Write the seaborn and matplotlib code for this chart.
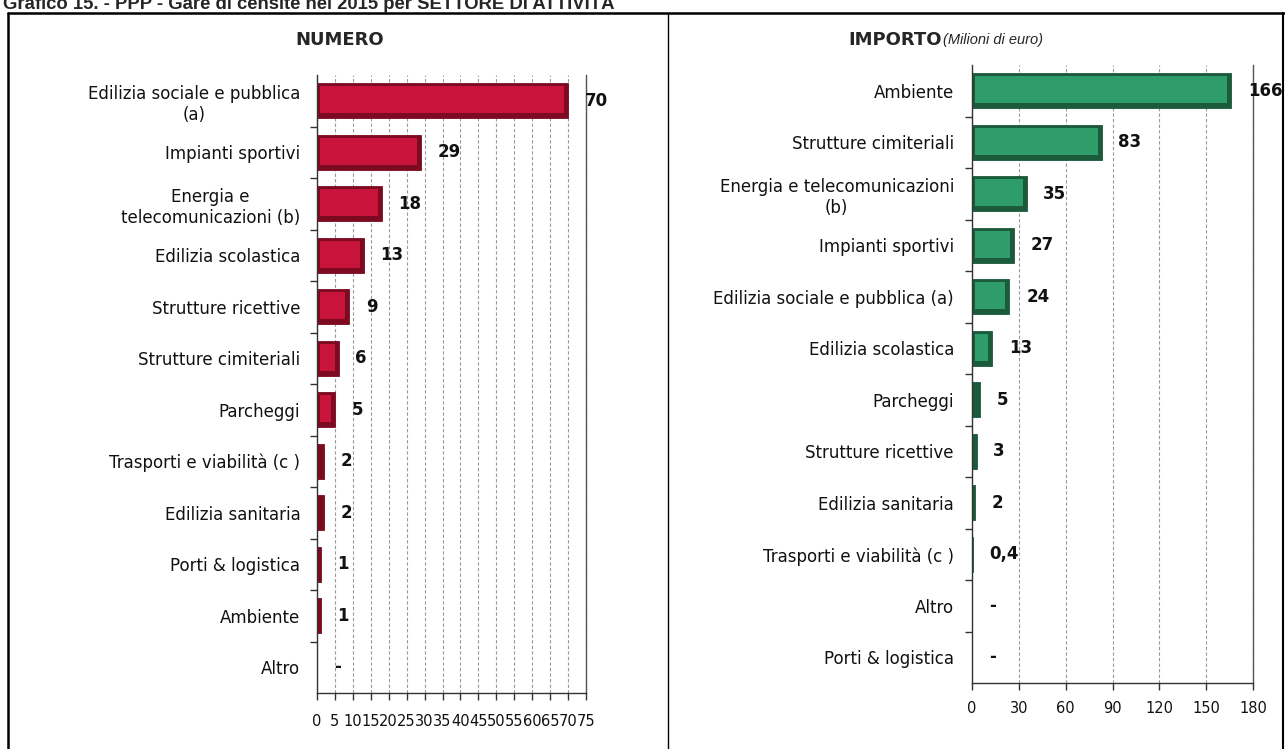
"""PPP - Gare censite nel 2015 per settore di attivita: numero e importo."""
import matplotlib

matplotlib.use("Agg")
import matplotlib.pyplot as plt  # noqa: E402
from matplotlib.lines import Line2D  # noqa: E402
from matplotlib.patches import Rectangle  # noqa: E402
import numpy as np  # noqa: E402
import pandas as pd  # noqa: E402
import seaborn as sns  # noqa: E402

sns.set_theme(style="white")
plt.rcParams["font.family"] = ["DejaVu Sans"]

# --------------------------------------------------------------------------- #
# Data
# --------------------------------------------------------------------------- #
NUM_SECTORS = [
    "Edilizia sociale e pubblica\n(a)",
    "Impianti sportivi",
    "Energia e\ntelecomunicazioni (b)",
    "Edilizia scolastica",
    "Strutture ricettive",
    "Strutture cimiteriali",
    "Parcheggi",
    "Trasporti e viabilità (c )",
    "Edilizia sanitaria",
    "Porti & logistica",
    "Ambiente",
    "Altro",
]
NUM_VALUES = [70, 29, 18, 13, 9, 6, 5, 2, 2, 1, 1, 0]
NUM_LABELS = ["70", "29", "18", "13", "9", "6", "5", "2", "2", "1", "1", "-"]
NUM_TICKS = list(range(0, 80, 5))

IMP_SECTORS = [
    "Ambiente",
    "Strutture cimiteriali",
    "Energia e telecomunicazioni\n(b)",
    "Impianti sportivi",
    "Edilizia sociale e pubblica (a)",
    "Edilizia scolastica",
    "Parcheggi",
    "Strutture ricettive",
    "Edilizia sanitaria",
    "Trasporti e viabilità (c )",
    "Altro",
    "Porti & logistica",
]
IMP_VALUES = [166, 83, 35, 27, 24, 13, 5, 3, 2, 0.4, 0, 0]
IMP_LABELS = ["166", "83", "35", "27", "24", "13", "5", "3", "2", "0,4", "-", "-"]
IMP_TICKS = list(range(0, 210, 30))

TITLE = "Grafico 15. - PPP - Gare di censite nel 2015 per SETTORE DI ATTIVITÀ"

W, H = 1285, 749


def _bevel(ax, fig, main, dark):
    """Give each bar the bevelled Excel look: dark rim, lighter inner face."""
    fig.canvas.draw()
    bb = ax.get_window_extent()
    x0, x1 = ax.get_xlim()
    y0, y1 = ax.get_ylim()
    px = (x1 - x0) / bb.width
    py = abs(y1 - y0) / bb.height
    for p in ax.patches:
        x, y, w, h = p.get_x(), p.get_y(), p.get_width(), p.get_height()
        p.set_facecolor(dark)
        p.set_edgecolor(dark)
        p.set_linewidth(0.6)
        if w / px > 8:
            ax.add_patch(Rectangle((x + 3 * px, y + 3 * py), w - 7 * px, h - 8 * py,
                                   facecolor=main, edgecolor="none", zorder=3))


def _panel(fig, rect, sectors, values, labels, ticks, xmax, main, dark,
           label_off, tick_pad):
    ax = fig.add_axes(rect)
    df = pd.DataFrame({"sector": sectors, "value": values})
    sns.barplot(data=df, x="value", y="sector", orient="h", color=main,
                width=0.68, saturation=1, ax=ax, zorder=2)
    ax.set_xlim(0, xmax)
    ax.set_xticks(ticks)
    ax.set_xlabel("")
    ax.set_ylabel("")
    ax.grid(axis="x", color="#9a9a9a", linestyle=(0, (3, 2)), linewidth=0.8)
    ax.set_axisbelow(True)
    for side in ("left", "bottom", "right"):
        ax.spines[side].set_color("#333333")
        ax.spines[side].set_linewidth(1.0)
    ax.spines["top"].set_visible(False)
    ax.spines["right"].set_color("#555555")
    ax.set_yticks(np.arange(0.5, len(sectors) - 1, 1.0), minor=True)
    ax.tick_params(axis="y", which="major", length=0, pad=label_off,
                   labelsize=12, colors="#111111")
    ax.tick_params(axis="y", which="minor", left=True, length=5, width=1,
                   color="#333333")
    ax.tick_params(axis="x", bottom=True, length=5, width=1, color="#333333",
                   labelsize=10.5, pad=tick_pad, labelcolor="#111111")
    for t in ax.get_yticklabels():
        t.set_multialignment("center")
    _bevel(ax, fig, main, dark)
    for i, (v, lab) in enumerate(zip(values, labels)):
        ax.annotate(lab, xy=(v, i), xytext=(12, 0), textcoords="offset points",
                    ha="left", va="center", fontsize=12, fontweight="bold",
                    color="#111111", annotation_clip=False, zorder=5)
    return ax


fig = plt.figure(figsize=(W / 100, H / 100), dpi=100)

ax1 = _panel(fig, [317 / W, 1 - 693 / H, 269 / W, 618 / H],
             NUM_SECTORS, NUM_VALUES, NUM_LABELS, NUM_TICKS, 75,
             "#c8133a", "#7c0b22", 12, 10)
ax2 = _panel(fig, [972 / W, 1 - 683 / H, 281 / W, 618 / H],
             IMP_SECTORS, IMP_VALUES, IMP_LABELS, IMP_TICKS, 180,
             "#2f9d69", "#1b5a3b", 13, 8)

# panel headings
fig.text(340 / W, 1 - 40 / H, "NUMERO", ha="center", va="center",
         fontsize=13, fontweight="bold")
fig.text(848 / W, 1 - 40 / H, "IMPORTO", ha="left", va="center",
         fontsize=13, fontweight="bold")
fig.text(943 / W, 1 - 40 / H, "(Milioni di euro)", ha="left", va="center",
         fontsize=10.5, style="italic", family=["Liberation Sans", "DejaVu Sans"])

# document title, cropped at the top edge as in the source page
fig.text(3 / W, 1 - 9 / H, TITLE, ha="left", va="baseline", fontsize=13.3,
         fontweight="bold", family=["Liberation Sans", "DejaVu Sans"])

# page frame
frame = dict(color="black", transform=fig.transFigure)
fig.add_artist(Line2D([8 / W, 1], [1 - 13 / H, 1 - 13 / H], lw=1.8, **frame))
fig.add_artist(Line2D([8 / W, 8 / W], [0, 1 - 13 / H], lw=1.8, **frame))
fig.add_artist(Line2D([668 / W, 668 / W], [0, 1 - 13 / H], lw=1.0, **frame))
fig.add_artist(Line2D([1283 / W, 1283 / W], [0, 1 - 13 / H], lw=1.5, **frame))

fig.savefig("out.png", dpi=100)
